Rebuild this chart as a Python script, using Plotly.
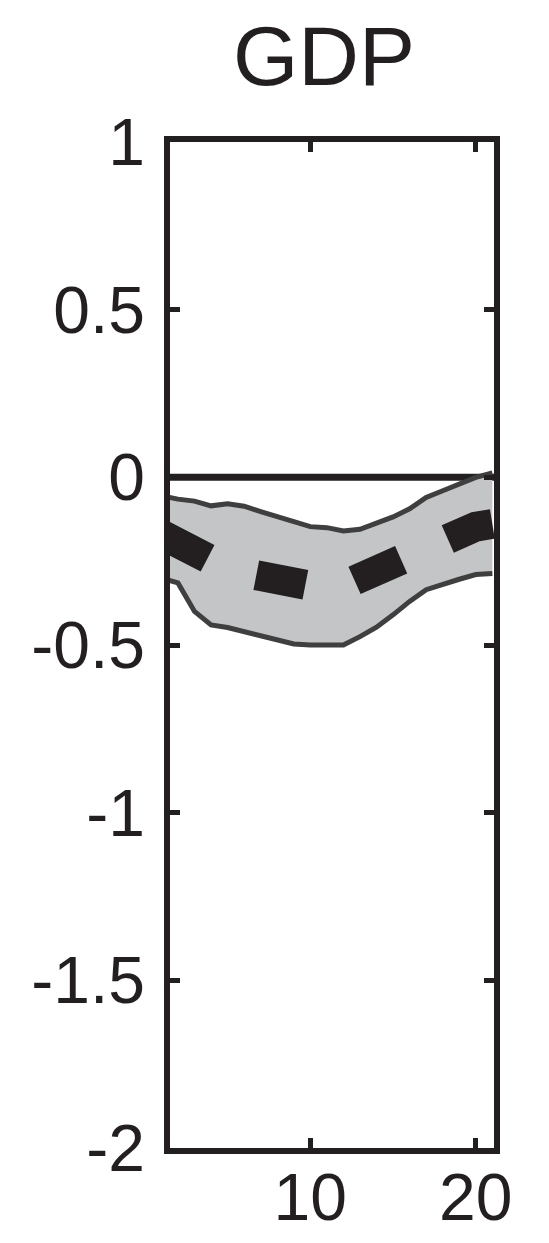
import plotly.graph_objects as go

# ---- data ----
horizon = list(range(1, 22))
upper = [-0.055, -0.065, -0.071, -0.085, -0.079, -0.086, -0.102, -0.118, -0.133, -0.147,
         -0.150, -0.160, -0.155, -0.137, -0.118, -0.094, -0.060, -0.040, -0.019, 0.000, 0.013]
lower = [-0.300, -0.315, -0.400, -0.440, -0.448, -0.460, -0.473, -0.485, -0.497, -0.500,
         -0.500, -0.500, -0.475, -0.447, -0.410, -0.370, -0.335, -0.318, -0.304, -0.290, -0.287]
median = [-0.170, -0.200, -0.230, -0.258, -0.272, -0.285, -0.296, -0.310, -0.322, -0.330,
          -0.333, -0.322, -0.300, -0.277, -0.252, -0.222, -0.195, -0.172, -0.158, -0.147, -0.139]

title_text = "GDP"
x_tickvals = [10, 20]
x_ticktext = ["10", "20"]
y_tickvals = [1, 0.5, 0, -0.5, -1, -1.5, -2]
y_ticktext = ["1", "0.5", "0", "-0.5", "-1", "-1.5", "-2"]

INK = "#231f20"
EDGE = "#3f3f3f"
BAND = "#c4c5c7"
FONT = "Liberation Sans, Arial, Helvetica, sans-serif"

fig = go.Figure()

fig.add_trace(go.Scatter(x=horizon, y=lower, mode="lines",
                         line=dict(color=EDGE, width=5), showlegend=False,
                         hoverinfo="skip"))
fig.add_trace(go.Scatter(x=horizon, y=upper, mode="lines", fill="tonexty",
                         fillcolor=BAND, line=dict(color=EDGE, width=5),
                         showlegend=False, hoverinfo="skip"))
fig.add_trace(go.Scatter(x=horizon, y=median, mode="lines",
                         line=dict(color=INK, width=30,
                                   dash="52px,52px,50px,51px,51px,51px,90px"),
                         showlegend=False, hoverinfo="skip"))

# zero reference line (below the band)
fig.add_shape(type="line", xref="paper", x0=0, x1=1, yref="y", y0=0, y1=0,
              line=dict(color=INK, width=7), layer="below")

fig.add_annotation(text=title_text, xref="paper", yref="paper", x=0.475, y=1.085,
                   xanchor="center", yanchor="middle", showarrow=False,
                   font=dict(family=FONT, size=84, color=INK))

axis_common = dict(showline=True, linewidth=5.5, linecolor=INK, mirror="ticks",
                   ticks="inside", ticklen=10, tickwidth=5, tickcolor=INK,
                   showgrid=False, zeroline=False, automargin=False,
                   tickfont=dict(family=FONT, size=66, color=INK))

fig.update_xaxes(range=[1.52, 21.1], tickmode="array", tickvals=x_tickvals,
                 ticktext=x_ticktext, ticklabelstandoff=-13, **axis_common)
fig.update_yaxes(range=[-2, 1], tickmode="array", tickvals=y_tickvals,
                 ticktext=y_ticktext, ticklabelstandoff=6, **axis_common)

# the page body adds an 8px offset, so the figure is 8px smaller
fig.update_layout(width=541, height=1235, autosize=False,
                  margin=dict(l=162, r=55, t=134, b=95),
                  paper_bgcolor="white", plot_bgcolor="white")

fig.write_html("out.html")
